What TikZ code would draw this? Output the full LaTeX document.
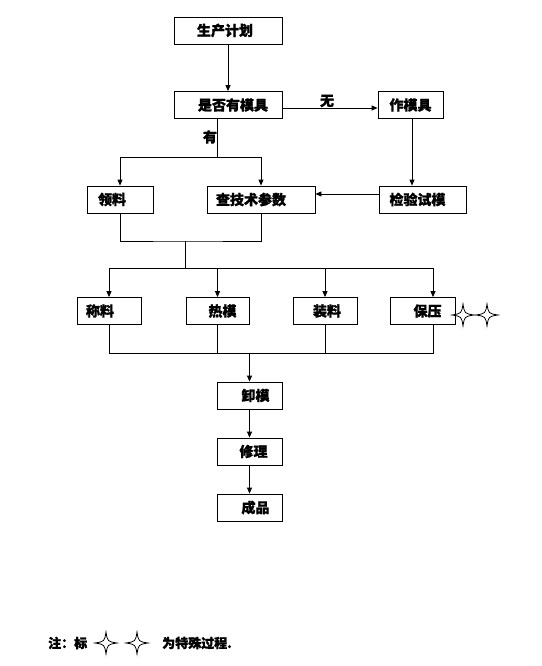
\documentclass[tikz,border=0pt]{standalone}
\usepackage{fontspec}
\newfontfamily\cjk[FakeBold=1.2]{Noto Sans CJK SC}
\usetikzlibrary{arrows.meta}
\tikzset{
  box/.style={draw, line width=0.8pt, minimum width=#1, minimum height=27pt, inner sep=0pt, font=\cjk\bfseries\fontsize{14}{16}\selectfont},
  box/.default=65pt,
  lbl/.style={inner sep=0pt, font=\cjk\bfseries\fontsize{14}{16}\selectfont},
  notetxt/.style={inner sep=0pt, anchor=west, font=\cjk\bfseries\fontsize{13}{15}\selectfont},
  conn/.style={line width=0.8pt},
  arr/.style={line width=0.8pt, -{Triangle[length=6pt,width=5pt]}},
  pics/star/.style={code={\draw[line width=0.8pt] (0,-11) .. controls (1.5,-1.5) .. (11,0) .. controls (1.5,1.5) .. (0,11) .. controls (-1.5,1.5) .. (-11,0) .. controls (-1.5,-1.5) .. cycle;}}
}
\begin{document}
\begin{tikzpicture}[x=1pt,y=-1pt]
\useasboundingbox (0,0) rectangle (541,666);
% row 1
\node[box=108pt] (plan) at (228,30.5) {\hspace*{-6pt}生产计划};
\node[box=108pt] (have) at (228,105) {\hspace*{10pt}是否有模具};
\node[box=65pt] (make) at (410.5,105) {作模具};
% row 2
\node[box=66pt] (ling) at (120,199.5) {\hspace*{-16pt}领料};
\node[box=108pt] (cha) at (261,199.5) {\hspace*{-20pt}查技术参数};
\node[box=87pt] (jian) at (422.5,199.5) {\hspace*{-10pt}检验试模};
% row 3
\node[box=64pt] (cheng) at (109,311) {\hspace*{-18pt}称料};
\node[box=63pt] (re) at (217.5,311) {\hspace*{10pt}热模};
\node[box=64pt] (zhuang) at (325,311) {\hspace*{4pt}装料};
\node[box=65pt] (bao) at (422.5,311) {\hspace*{10pt}保压};
% column
\node[box=65pt] (xie) at (249.5,395.5) {\hspace*{12pt}卸模};
\node[box=65pt] (xiu) at (249.5,451.5) {\hspace*{8pt}修理};
\node[box=65pt] (done) at (249.5,507.5) {\hspace*{12pt}成品};
% labels
\node[lbl] (wu) at (327,101) {无};
\node[lbl] (you) at (210,137) {有};
% connectors
\draw[arr] (plan.south) -- (have.north);
\draw[arr] (have.east |- 0,108) -- (make.west |- 0,108);
\coordinate (yb) at (217,157);
\draw[conn] (have.south -| yb) -- (yb);
\draw[arr] (yb) -| (ling.north);
\draw[arr] (yb) -| (cha.north);
\coordinate (mj) at (412,0);
\draw[arr] (make.south -| mj) -- (jian.north -| mj);
\draw[arr] (jian.west |- 0,194) -- (cha.east |- 0,194);
\coordinate (m1) at (185,241);
\coordinate (h1) at (185,268);
\coordinate (bx) at (433,0);
\draw[conn] (ling.south) |- (m1) -| (cha.south);
\draw[conn] (m1) -- (h1);
\draw[arr] (h1) -| (cheng.north);
\draw[arr] (h1) -| (bao.north -| bx);
\draw[arr] (h1 -| re.north) -- (re.north);
\draw[arr] (h1 -| zhuang.north) -- (zhuang.north);
\coordinate (m2) at (249.5,353);
\draw[conn] (cheng.south) |- (m2);
\draw[conn] (bao.south -| bx) |- (m2);
\draw[conn] (re.south) -- (re.south |- m2);
\draw[conn] (zhuang.south) -- (zhuang.south |- m2);
\draw[arr] (m2) -- (xie.north);
\draw[arr] (xie.south) -- (xiu.north);
\draw[arr] (xiu.south) -- (done.north);
% stars
\pic at (463,315) {star};
\pic at (487,315) {star};
% note
\node[notetxt] (note1) at (48,643) {注：标};
\pic at (106,643) {star};
\pic at (137,643) {star};
\node[notetxt] (note2) at (162,643) {为特殊过程.};
\end{tikzpicture}
\end{document}
